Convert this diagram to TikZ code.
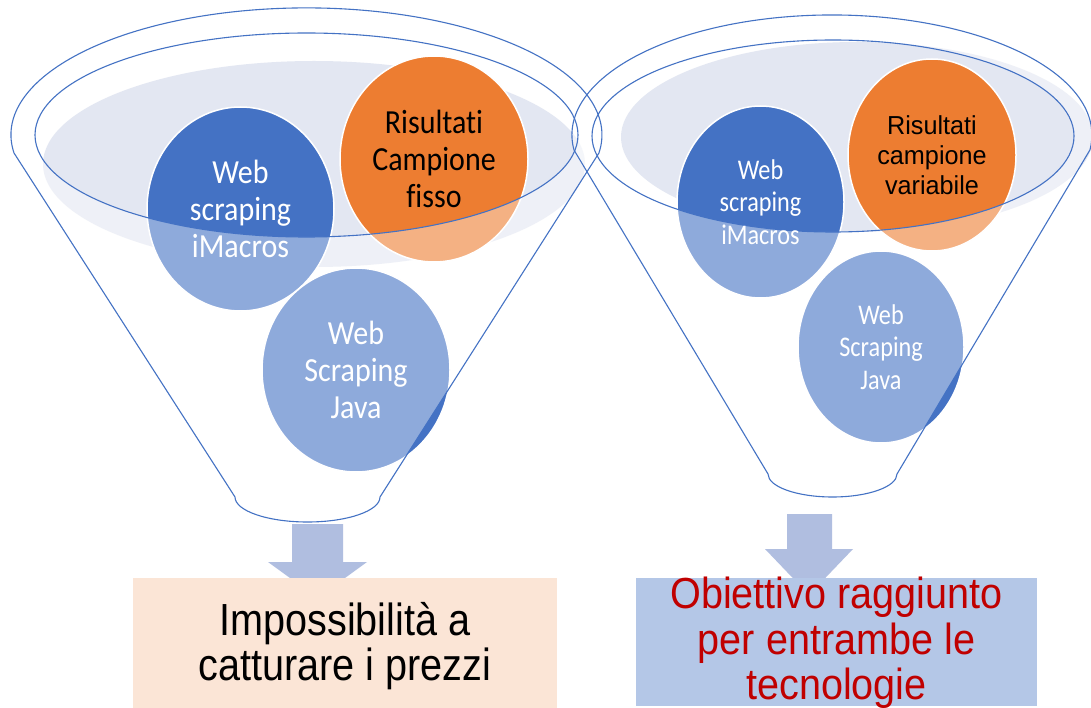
\documentclass[tikz,border=0pt]{standalone}
\usepackage{fontspec}
\newfontfamily\calL[FakeStretch=0.89,Ligatures=NoCommon]{Carlito}
\newfontfamily\calR[FakeStretch=0.85,Ligatures=NoCommon]{Carlito}
\newfontfamily\arN[FakeStretch=0.88]{Liberation Sans}
\newfontfamily\arR[FakeStretch=0.97]{Liberation Sans}
\newfontfamily\arB[FakeStretch=0.91]{Liberation Sans}
\definecolor{dblue}{HTML}{4472C4}
\definecolor{orng}{HTML}{ED7D31}
\definecolor{shadec}{HTML}{E3E7F2}
\definecolor{arrowc}{HTML}{B0BEE0}
\definecolor{peach}{HTML}{FBE5D6}
\definecolor{lblue}{HTML}{B4C7E7}
\definecolor{dred}{HTML}{C00000}
\begin{document}
\begin{tikzpicture}[x=1pt,y=-1pt,
  rim/.style={draw=dblue,line width=1.1pt},
  veil/.style={fill=white,fill opacity=0.4,even odd rule},
  bubble/.style={draw=white,line width=1.5pt},
  blockarrow/.style={fill=arrowc},
  ltxt/.style={font={\calL\fontsize{33.7}{37}\selectfont},align=center,inner sep=0pt},
  rtxt/.style={font={\calR\fontsize{28.5}{32.5}\selectfont},align=center,inner sep=0pt},
  rotxt/.style={font={\arR\fontsize{26}{30}\selectfont},align=center,inner sep=0pt},
  boxtxtL/.style={font={\arN\fontsize{45}{45}\selectfont},align=center,inner sep=0pt},
  boxtxtR/.style={font={\arB\fontsize{43.5}{45.5}\selectfont},align=center,inner sep=0pt,text=dred}]
\useasboundingbox (0,0) rectangle (1091,708);
\clip (0,0) rectangle (1091,708);
\fill[white] (0,0) rectangle (1091,708);

% ---------- left funnel ----------
\fill[shadec] (314,164) ellipse [x radius=271, y radius=103];
\path[fill=dblue,bubble] (240.5,209) ellipse [x radius=93.5, y radius=102];
\path[fill=orng,bubble] (434,159) ellipse [x radius=94, y radius=103];
\path[fill=dblue,bubble] (356,370) ellipse [x radius=94, y radius=102];
\path[veil] (14,153) arc[start angle=171.8,end angle=368.2,x radius=295.5,y radius=127]
  -- (380,497) arc[start angle=0,end angle=180,x radius=72.5,y radius=25] -- cycle
  (306.5,135) ellipse [x radius=271.5, y radius=102];

% ---------- right funnel ----------
\fill[shadec] (857,137) ellipse [x radius=236, y radius=95];
\path[fill=dblue,bubble] (760.5,202) ellipse [x radius=83.5, y radius=96];
\path[fill=orng,bubble] (932,155) ellipse [x radius=84, y radius=96];
\path[fill=dblue,bubble] (881,347) ellipse [x radius=83, y radius=96];
\path[veil] (574,150) arc[start angle=172.8,end angle=367.2,x radius=260,y radius=120]
  -- (897,474) arc[start angle=0,end angle=180,x radius=64.5,y radius=23] -- cycle
  (833,136) ellipse [x radius=241, y radius=96];

% ---------- outlines ----------
\draw[rim] (14,153) arc[start angle=171.8,end angle=368.2,x radius=295.5,y radius=127]
  -- (380,497) arc[start angle=0,end angle=180,x radius=72.5,y radius=25] -- cycle;
\draw[rim] (306.5,135) ellipse [x radius=271.5, y radius=102];
\draw[rim] (574,150) arc[start angle=172.8,end angle=367.2,x radius=260,y radius=120]
  -- (897,474) arc[start angle=0,end angle=180,x radius=64.5,y radius=23] -- cycle;
\draw[rim] (833,136) ellipse [x radius=241, y radius=96];

% ---------- circle texts ----------
\node[ltxt,text=white] (limac) at (240.5,209) {Web\\scraping\\iMacros};
\node[ltxt,text=black] (lres) at (434,159) {Risultati\\Campione\\fisso};
\node[ltxt,text=white] (ljava) at (356,370) {Web\\Scraping\\Java};
\node[rtxt,text=white] (rimac) at (760.5,202) {Web\\scraping\\iMacros};
\node[rotxt,text=black] (rres) at (932,155) {Risultati\\campione\\variabile};
\node[rtxt,text=white] (rjava) at (881,347) {Web\\Scraping\\Java};

% ---------- arrows ----------
\fill[blockarrow] (292,524) -- (343,524) -- (343,562) -- (367,562) -- (317.5,598)
  -- (268,562) -- (292,562) -- cycle;
\fill[blockarrow] (787,514) -- (832,514) -- (832,549) -- (853,549) -- (809,595)
  -- (765,549) -- (787,549) -- cycle;

% ---------- result boxes ----------
\node[fill=peach,minimum width=424pt,minimum height=130pt,inner sep=0pt] (lbox) at (345,643) {};
\node[fill=lblue,minimum width=401pt,minimum height=128pt,inner sep=0pt] (rbox) at (836.5,642) {};
\node[boxtxtL] (ltext) at (345,646) {Impossibilità a\\catturare i prezzi};
\node[boxtxtR] (rtext) at (836.5,643) {Obiettivo raggiunto\\per entrambe le\\tecnologie};
\end{tikzpicture}
\end{document}
